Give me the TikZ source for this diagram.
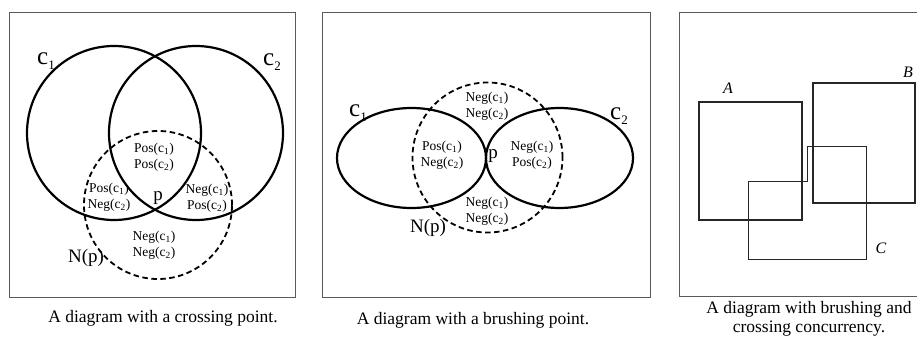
\documentclass[tikz,border=0pt]{standalone}
\usepackage{fontspec}
\setmainfont{Liberation Serif}
\usetikzlibrary{shapes.geometric}
% region labels: Pos(c_i) / Neg(c_i)
\newcommand\lblPos[1]{Pos(c\textsubscript{#1})}
\newcommand\lblNeg[1]{Neg(c\textsubscript{#1})}
% large curve label c_i
\newcommand\curvelbl[1]{{\fontsize{25}{25}\selectfont c}\raisebox{-5pt}{\fontsize{13}{13}\selectfont #1}}
\begin{document}
\begin{tikzpicture}[x=1pt,y=-1pt,
  frame/.style={draw=black!65, line width=1pt},
  setline/.style={draw, line width=2.2pt, inner sep=0pt},
  nbhd/.style={draw, line width=1.8pt, dash pattern=on 5.5pt off 3.5pt, inner sep=0pt},
  small/.style={font=\fontsize{13.5}{16}\selectfont, align=center, inner sep=0pt},
  big/.style={font=\fontsize{19}{19}\selectfont, inner sep=0pt},
  caption/.style={font=\fontsize{17.5}{18.5}\selectfont, align=center, inner sep=0pt},
  ital/.style={font=\fontsize{16}{16}\selectfont\itshape, inner sep=0pt},
  sq/.style={draw=black!85, line width=1.5pt},
  thinsq/.style={draw=black!85, line width=1pt},
]
\useasboundingbox (0,0) rectangle (917,345);

% ---------- crossing point ----------
\draw[frame] (9,13) rectangle (295,297);
\node[setline, circle, minimum size=174pt] (ca1) at (114,133) {};
\node[setline, circle, minimum size=174pt] (ca2) at (196,133) {};
\node[nbhd, circle, minimum size=148pt] (npa) at (158,205) {};
\node (la1) at (46,61) {\curvelbl{1}};
\node (la2) at (272,62) {\curvelbl{2}};
\node[small] (ra1) at (154,157) {\lblPos{1}\\\lblPos{2}};
\node[small] (ra2) at (109,197) {\lblPos{1}\\\lblNeg{2}};
\node[small] (ra3) at (207,198) {\lblNeg{1}\\\lblPos{2}};
\node[small] (ra4) at (154,245) {\lblNeg{1}\\\lblNeg{2}};
\node[big] (pa) at (158,198) {p};
\node[big] (nla) at (86,258) {N(p)};
\node[caption] (capa) at (163,318) {A diagram with a crossing point.};

% ---------- brushing point ----------
\draw[frame] (322,13) rectangle (650,297);
\node[setline, ellipse, minimum width=149pt, minimum height=100pt] (cb1) at (411.5,158) {};
\node[setline, ellipse, minimum width=147pt, minimum height=100pt] (cb2) at (559.5,158) {};
\node[nbhd, circle, minimum size=150pt] (npb) at (487.5,157.5) {};
\node (lb1) at (358,113) {\curvelbl{1}};
\node (lb2) at (619,116) {\curvelbl{2}};
\node[small] (rb1) at (487,106) {\lblNeg{1}\\\lblNeg{2}};
\node[small] (rb2) at (442,155) {\lblPos{1}\\\lblNeg{2}};
\node[small] (rb3) at (532,155) {\lblNeg{1}\\\lblPos{2}};
\node[small] (rb4) at (487,211) {\lblNeg{1}\\\lblNeg{2}};
\node[big] (pb) at (493,156) {p};
\node[big] (nlb) at (428,228) {N(p)};
\node[caption] (capb) at (473,320) {A diagram with a brushing point.};

% ---------- brushing and crossing concurrency ----------
\draw[frame] (917,13) -- (679,13) -- (679,296) -- (917,296);
\draw[sq] (699,102) rectangle (802,220);
\draw[sq] (813,83) rectangle (915,203);
\draw[thinsq] (748,181) -- (807,181) -- (807,146) -- (866,146) -- (866,259) -- (748,259) -- cycle;
\node[ital] (lA) at (728,88) {A};
\node[ital] (lB) at (908,72) {B};
\node[ital] (lC) at (881,248) {C};
\node[caption] (capc) at (809,319) {A diagram with brushing and\\crossing concurrency.};
\end{tikzpicture}
\end{document}
